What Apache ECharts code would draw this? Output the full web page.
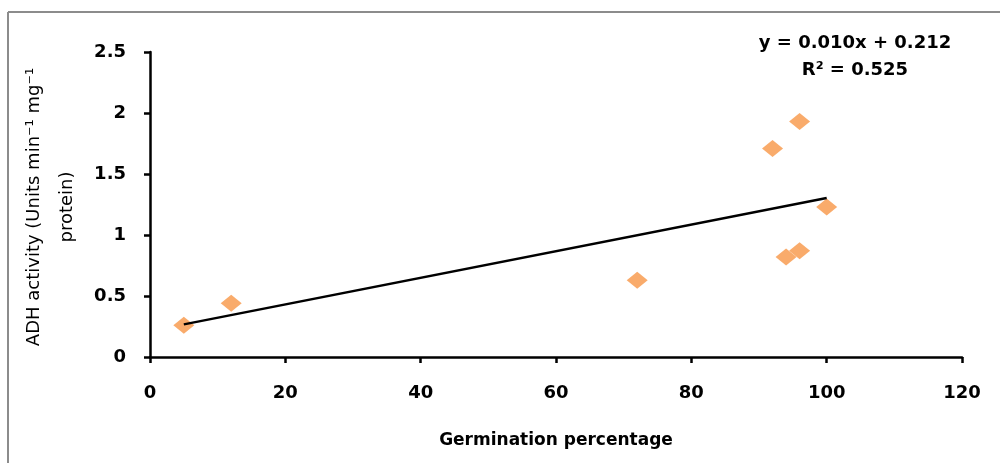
<!DOCTYPE html>
<html>
<head>
<meta charset="utf-8">
<script src="https://cdn.jsdelivr.net/npm/echarts@6/dist/echarts.min.js"></script>
<style>
    html, body { margin: 0; padding: 0; background: #fff; }
    #chart { width: 1000px; height: 463px; }
</style>
</head>
<body>
<div id="chart"></div>
<script>
    // germination % vs ADH activity
    const germination = [5, 12, 72, 92, 96, 94, 96, 100];
    const adhActivity = [0.26, 0.44, 0.63, 1.71, 1.93, 0.82, 0.87, 1.23];
    const xTicks = [0, 20, 40, 60, 80, 100, 120];
    const yTicks = [0, 0.5, 1, 1.5, 2, 2.5];
    const equationText = ['y = 0.010x + 0.212', 'R\u00b2 = 0.525'];

    // least squares fit for the trend line
    let n = germination.length;
    let mx = germination.reduce((a, b) => a + b, 0) / n;
    let my = adhActivity.reduce((a, b) => a + b, 0) / n;
    let sxy = 0, sxx = 0;
    for (let i = 0; i < n; i++) {
        sxy += (germination[i] - mx) * (adhActivity[i] - my);
        sxx += (germination[i] - mx) * (germination[i] - mx);
    }
    let slope = sxy / sxx;
    let intercept = my - slope * mx;
    let xMin = Math.min(...germination), xMax = Math.max(...germination);
    let trend = [[xMin, intercept + slope * xMin], [xMax, intercept + slope * xMax]];

    let font = '"DejaVu Sans", sans-serif';
    let myChart = echarts.init(document.getElementById('chart'));
    let option = {
        backgroundColor: '#fff',
        animation: false,
        grid: { left: 150, right: 38, top: 52, bottom: 106 },
        xAxis: {
            type: 'value',
            min: xTicks[0],
            max: xTicks[xTicks.length - 1],
            interval: 20,
            name: 'Germination percentage',
            nameLocation: 'middle',
            nameGap: 75,
            nameTextStyle: { color: '#000', fontSize: 17, fontWeight: 'bold', fontFamily: font, verticalAlign: 'top' },
            axisLine: { onZero: false, lineStyle: { color: '#000', width: 2.5 } },
            axisTick: { show: true, inside: false, length: 6, lineStyle: { color: '#000', width: 2.5 } },
            axisLabel: { color: '#000', fontSize: 18, fontWeight: 'bold', fontFamily: font, margin: 27 },
            splitLine: { show: false }
        },
        yAxis: {
            type: 'value',
            min: yTicks[0],
            max: yTicks[yTicks.length - 1],
            interval: 0.5,
            axisLine: { show: true, onZero: false, lineStyle: { color: '#000', width: 2.5 } },
            axisTick: { show: true, inside: false, length: 6, lineStyle: { color: '#000', width: 2.5 } },
            axisLabel: { color: '#000', fontSize: 18, fontWeight: 'bold', fontFamily: font, margin: 24 },
            splitLine: { show: false }
        },
        graphic: [
            { type: 'line', shape: { x1: 8, y1: 12, x2: 1000, y2: 12 }, style: { stroke: '#8c8c8c', lineWidth: 2 } },
            { type: 'line', shape: { x1: 8, y1: 12, x2: 8, y2: 463 }, style: { stroke: '#8c8c8c', lineWidth: 2 } },
            {
                type: 'text', x: 34, y: 207, rotation: Math.PI / 2,
                style: { text: 'ADH activity (Units min\u207b\u00b9 mg\u207b\u00b9', fill: '#000', font: '18px ' + font, align: 'center', verticalAlign: 'middle' }
            },
            {
                type: 'text', x: 67, y: 207, rotation: Math.PI / 2,
                style: { text: 'protein)', fill: '#000', font: '18px ' + font, align: 'center', verticalAlign: 'middle' }
            },
            {
                type: 'text', x: 855, y: 43,
                style: { text: equationText[0], fill: '#000', font: 'bold 18px ' + font, align: 'center', verticalAlign: 'middle' }
            },
            {
                type: 'text', x: 855, y: 70,
                style: { text: equationText[1], fill: '#000', font: 'bold 18px ' + font, align: 'center', verticalAlign: 'middle' }
            }
        ],
        series: [
            {
                type: 'line',
                data: trend,
                symbol: 'none',
                lineStyle: { color: '#000', width: 2.5 },
                z: 3
            },
            {
                type: 'scatter',
                data: germination.map((g, i) => [g, adhActivity[i]]),
                symbol: 'diamond',
                symbolSize: [21, 17],
                itemStyle: { color: '#F79646' },
                z: 2
            }
        ]
    };
    myChart.setOption(option);
</script>
</body>
</html>
